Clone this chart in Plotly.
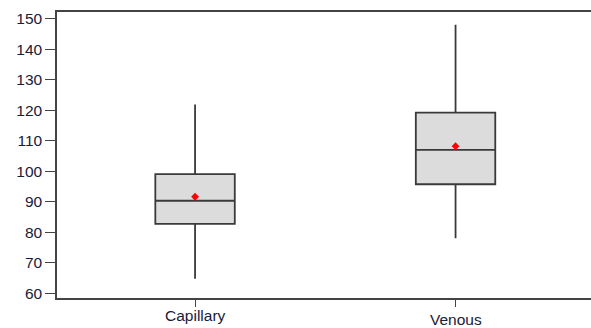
import plotly.graph_objects as go

categories = ["Capillary", "Venous"]
q1 = [82.7, 95.7]
median = [90.3, 107.0]
q3 = [99.0, 119.2]
lower_whisker = [64.7, 78.0]
upper_whisker = [121.9, 148.0]
means = [91.6, 108.2]
y_ticks = [60, 70, 80, 90, 100, 110, 120, 130, 140, 150]

xpos = list(range(len(categories)))
FONT = "Liberation Sans, Arial, sans-serif"

fig = go.Figure()
for i, cat in enumerate(categories):
    fig.add_trace(go.Box(
        x=[xpos[i]], q1=[q1[i]], median=[median[i]], q3=[q3[i]],
        lowerfence=[lower_whisker[i]], upperfence=[upper_whisker[i]],
        width=0.305, fillcolor="#dcdcdc",
        line=dict(color="#3a3a3a", width=1.8),
        name=cat, showlegend=False, boxpoints=False, whiskerwidth=0,
        hoverinfo="skip",
    ))
fig.add_trace(go.Scatter(
    x=xpos, y=means, mode="markers",
    marker=dict(symbol="diamond", size=6, color="#ff0000"),
    showlegend=False, hoverinfo="skip",
))

label_shift = [-17, -21.5]
for i, cat in enumerate(categories):
    fig.add_annotation(
        x=xpos[i], y=0, xref="x", yref="paper", text=cat, showarrow=False,
        yanchor="middle", yshift=label_shift[i],
        font=dict(family=FONT, size=15.5, color="#1a2038"),
    )

fig.update_layout(
    width=591, height=328,
    margin=dict(l=57, r=0, t=12, b=30, autoexpand=False),
    paper_bgcolor="white", plot_bgcolor="white",
    xaxis=dict(
        range=[-0.53, 1.52], tickvals=xpos, ticktext=["", ""],
        showline=True, linecolor="#444444", linewidth=1.5, mirror=True,
        ticks="outside", ticklen=7, tickcolor="#444444", tickwidth=1.2,
        showgrid=False, zeroline=False, fixedrange=True,
    ),
    yaxis=dict(
        range=[58.4, 152.2], tickvals=y_ticks,
        showline=True, linecolor="#444444", linewidth=1.5, mirror=False,
        ticks="outside", ticklen=10, tickcolor="#444444", tickwidth=1.2,
        showgrid=False, zeroline=False,
        tickfont=dict(family=FONT, size=15.5, color="#1a2038"),
    ),
)

fig.write_html("out.html", config={"displayModeBar": False},
               post_script="document.body.style.margin='0';document.body.style.overflow='hidden';")
